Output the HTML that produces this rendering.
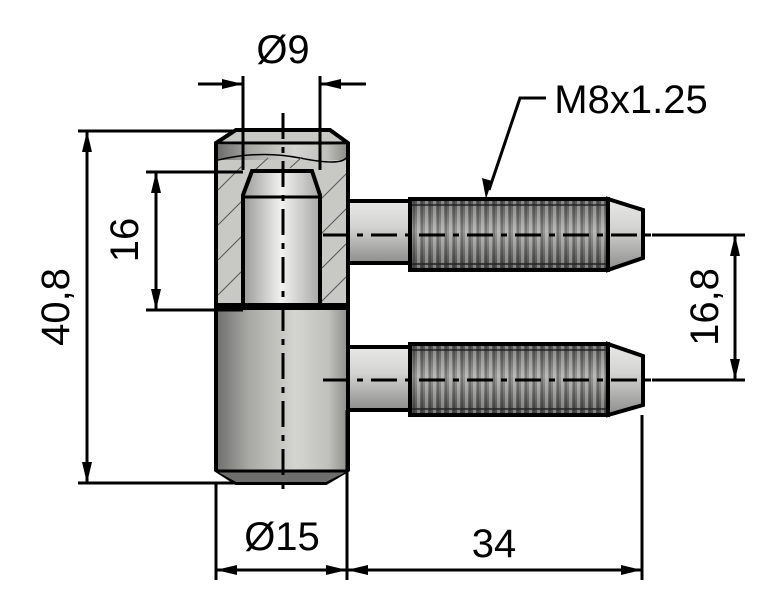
<!DOCTYPE html>
<html><head><meta charset="utf-8"><style>html,body{margin:0;padding:0;background:#fff}svg{display:block}</style></head><body>
<svg width="774" height="610" viewBox="0 0 774 610" xmlns="http://www.w3.org/2000/svg" font-family="Liberation Sans, Arial, sans-serif">
<defs>
<linearGradient id="cyl" x1="0" x2="1" y1="0" y2="0">
<stop offset="0" stop-color="#6e6e6c"/><stop offset="0.25" stop-color="#a8a8a4"/><stop offset="0.6" stop-color="#d4d4d0"/><stop offset="0.85" stop-color="#c0c0bc"/><stop offset="1" stop-color="#8e8e8a"/></linearGradient>
<linearGradient id="pin" x1="0" x2="1"><stop offset="0" stop-color="#9a9a98"/><stop offset="0.5" stop-color="#f2f2f0"/><stop offset="1" stop-color="#a8a8a6"/></linearGradient>
<linearGradient id="shaft" x1="0" x2="0" y1="0" y2="1"><stop offset="0" stop-color="#e8e8e6"/><stop offset="0.4" stop-color="#d4d4d2"/><stop offset="1" stop-color="#8e8e8c"/></linearGradient>
<linearGradient id="thr" x1="0" x2="0" y1="0" y2="1"><stop offset="0" stop-color="#505050"/><stop offset="0.45" stop-color="#9a9a98"/><stop offset="1" stop-color="#444"/></linearGradient>
<pattern id="stripes" width="8" height="10" patternUnits="userSpaceOnUse"><rect x="1" width="3" height="10" fill="#ffffff" opacity="0.3"/><rect x="5" width="2" height="10" fill="#000" opacity="0.2"/></pattern>
</defs>

<!-- upper body -->
<path d="M236,130 L330,130 L348,143 L348,305 L216,305 L216,143 Z" fill="#c8c8c4" stroke="#000" stroke-width="4"/>
<path d="M218,145 L346,145 L346,160 L218,160 Z" fill="url(#cyl)"/>
<line x1="216" y1="143" x2="348" y2="143" stroke="#000" stroke-width="3"/>
<path d="M218,160 Q260,150 300,158 T346,158" fill="none" stroke="#000" stroke-width="1.5"/>
<g stroke="#555" stroke-width="1">
<line x1="218" y1="190" x2="243" y2="165"/><line x1="218" y1="225" x2="243" y2="200"/><line x1="218" y1="260" x2="243" y2="235"/><line x1="218" y1="295" x2="243" y2="270"/>
<line x1="320" y1="200" x2="346" y2="174"/><line x1="320" y1="235" x2="346" y2="209"/><line x1="320" y1="270" x2="346" y2="244"/><line x1="320" y1="303" x2="346" y2="277"/>
<line x1="255" y1="170" x2="268" y2="158"/><line x1="290" y1="168" x2="302" y2="157"/>
</g>
<!-- pin -->
<path d="M252,171 L312,171 L320,195 L320,305 L243,305 L243,195 Z" fill="url(#pin)" stroke="#000" stroke-width="4"/>
<line x1="243" y1="197" x2="320" y2="197" stroke="#000" stroke-width="3"/>

<!-- lower body -->
<path d="M216,308 L348,308 L348,470 L326,483 L236,483 L216,470 Z" fill="url(#cyl)" stroke="#000" stroke-width="4"/>
<path d="M218,472 L346,472 L326,482 L236,482 Z" fill="#6e6e6c"/>
<line x1="216" y1="471" x2="348" y2="471" stroke="#000" stroke-width="3"/>

<!-- upper shaft -->
<rect x="348" y="201" width="62" height="62" fill="url(#shaft)" stroke="#000" stroke-width="4"/>
<path d="M608,199 L643,210 L643,258 L608,270 Z" fill="url(#shaft)" stroke="#000" stroke-width="4"/>
<rect x="410" y="199" width="198" height="71" fill="url(#thr)"/>
<rect x="410" y="199" width="198" height="71" fill="url(#stripes)" stroke="#000" stroke-width="4"/>
<line x1="412" y1="205" x2="606" y2="205" stroke="#222" stroke-width="1.5"/><line x1="412" y1="264" x2="606" y2="264" stroke="#222" stroke-width="1.5"/>
<!-- lower shaft -->
<rect x="348" y="347" width="62" height="63" fill="url(#shaft)" stroke="#000" stroke-width="4"/>
<path d="M608,344 L643,356 L643,405 L608,415 Z" fill="url(#shaft)" stroke="#000" stroke-width="4"/>
<rect x="410" y="344" width="198" height="71" fill="url(#thr)"/>
<rect x="410" y="344" width="198" height="71" fill="url(#stripes)" stroke="#000" stroke-width="4"/>
<line x1="412" y1="350" x2="606" y2="350" stroke="#222" stroke-width="1.5"/><line x1="412" y1="409" x2="606" y2="409" stroke="#222" stroke-width="1.5"/>

<!-- centerlines -->
<g stroke="#000" stroke-width="3" stroke-dasharray="26,8,6,8">
<line x1="283" y1="113" x2="283" y2="492"/>
<line x1="323" y1="235" x2="660" y2="235"/>
<line x1="323" y1="380" x2="660" y2="380"/>
</g>

<!-- dimension lines -->
<g stroke="#000" stroke-width="3" fill="none">
<line x1="243" y1="76" x2="243" y2="170"/><line x1="320" y1="76" x2="320" y2="170"/>
<line x1="198" y1="84" x2="243" y2="84"/><line x1="366" y1="84" x2="320" y2="84"/>
<line x1="78" y1="131" x2="236" y2="131"/><line x1="78" y1="483" x2="236" y2="483"/>
<line x1="87" y1="131" x2="87" y2="483"/>
<line x1="146" y1="172" x2="243" y2="172"/><line x1="146" y1="310" x2="243" y2="310"/>
<line x1="156" y1="172" x2="156" y2="310"/>
<line x1="652" y1="235" x2="745" y2="235"/><line x1="652" y1="380" x2="745" y2="380"/>
<line x1="735" y1="235" x2="735" y2="380"/>
<line x1="216" y1="483" x2="216" y2="580"/><line x1="347" y1="410" x2="347" y2="580"/><line x1="642" y1="415" x2="642" y2="580"/>
<line x1="216" y1="570" x2="642" y2="570"/>
<polyline points="546,98 520,98 489,190"/>
</g>
<g fill="#000">
<!-- O9 arrows pointing inward -->
<path d="M243,84 L222,79 L222,89 Z"/><path d="M320,84 L341,79 L341,89 Z"/>
<!-- 40,8 -->
<path d="M87,131 L82,152 L92,152 Z"/><path d="M87,483 L82,462 L92,462 Z"/>
<!-- 16 -->
<path d="M156,172 L151,193 L161,193 Z"/><path d="M156,310 L151,289 L161,289 Z"/>
<!-- 16,8 -->
<path d="M735,235 L730,256 L740,256 Z"/><path d="M735,380 L730,359 L740,359 Z"/>
<!-- bottom -->
<path d="M216,570 L237,565 L237,575 Z"/><path d="M347,570 L326,565 L326,575 Z"/>
<path d="M347,570 L368,565 L368,575 Z"/><path d="M642,570 L621,565 L621,575 Z"/>
<!-- leader -->
<path d="M486,199 L482,178 L492,181 Z"/>
</g>

<g font-size="40" fill="#000">
<text x="283" y="63" text-anchor="middle">Ø9</text>
<text x="631" y="113" text-anchor="middle">M8x1.25</text>
<text x="282" y="550" text-anchor="middle">Ø15</text>
<text x="494" y="557" text-anchor="middle">34</text>
<text transform="translate(69,307) rotate(-90)" text-anchor="middle">40,8</text>
<text transform="translate(138,240) rotate(-90)" text-anchor="middle">16</text>
<text transform="translate(718,307) rotate(-90)" text-anchor="middle">16,8</text>
</g>
</svg>
</body></html>
